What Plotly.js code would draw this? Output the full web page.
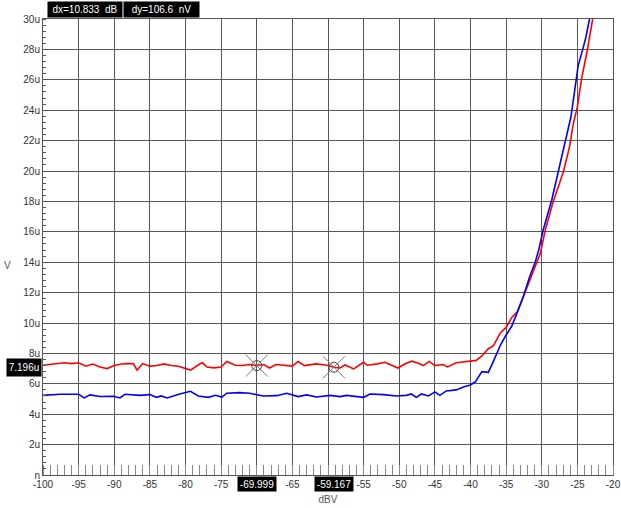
<!DOCTYPE html>
<html>
<head>
<meta charset="utf-8">
<script src="https://cdn.plot.ly/plotly-3.0.1.min.js"></script>
<style>
html,body{margin:0;padding:0;background:#fff;}
#chart{width:621px;height:508px;}
</style>
</head>
<body>
<div id="chart"></div>
<script>
// ---- data (x in dBV, y in microvolts) ----
const redX = [-100,-99,-98,-97,-96,-95,-94,-93,-92,-91,-90,-89,-88,-87.3,-86.8,-86,-85,-84,-83,-82,-81,-80,-79.3,-78,-77.6,-77,-76,-75,-74.2,-73,-72,-71,-70,-69,-68.2,-67.3,-65,-64.2,-63.3,-61.7,-60.3,-59.2,-58.3,-57.6,-56.4,-55,-54.5,-53.1,-52,-51.3,-50.2,-49.1,-48.2,-47.5,-46.6,-45.8,-45,-43.9,-43.2,-42,-40.1,-39.2,-38.4,-37.5,-36.8,-35.8,-35,-34.2,-33.4,-32.6,-31.8,-30.9,-30.2,-29.5,-28.4,-27.5,-26.9,-26.1,-25.6,-25,-24.4,-23.6,-22.85];
const redY = [7.22,7.28,7.36,7.38,7.33,7.38,7.16,7.3,7.1,7.0,7.2,7.3,7.33,7.32,6.9,7.33,7.16,7.2,7.31,7.2,7.15,7.0,6.9,7.3,7.38,7.1,7.05,7.1,7.47,7.22,7.2,7.27,7.2,7.27,7.04,7.27,7.16,7.47,7.2,7.31,7.24,7.09,7.04,7.24,6.98,7.42,7.22,7.31,7.42,7.27,7.04,7.33,7.49,7.38,7.2,7.47,7.2,7.27,7.11,7.38,7.5,7.54,7.83,8.31,8.49,9.36,9.71,10.37,10.75,11.73,12.72,13.82,14.58,16.12,17.98,19.19,20.07,21.6,23.03,24.23,26.1,27.96,30];
const blueX = [-100,-97.6,-95,-94.2,-93.4,-92,-90.1,-89.2,-88.5,-86.4,-85,-84.1,-83.4,-82.6,-80.8,-79.3,-78.2,-76.8,-75.8,-74.9,-74.2,-72.4,-71,-70,-69.1,-67.2,-65.8,-64.2,-63,-61.6,-59.7,-58.3,-57.4,-55,-54.1,-52.2,-50.4,-49,-48.3,-47.6,-46.9,-45.9,-45,-44.3,-43.4,-42,-40.9,-40,-39.3,-38.4,-37.5,-36.8,-35.8,-35,-34.2,-33.4,-32.6,-31.7,-30.9,-30.4,-29.8,-28.6,-27.7,-26.7,-25.9,-25.3,-24.9,-24.25,-23.8,-23.3];
const blueY = [5.24,5.31,5.31,5.07,5.27,5.16,5.18,5.07,5.31,5.24,5.29,5.11,5.2,5.07,5.33,5.51,5.2,5.11,5.24,5.13,5.38,5.42,5.38,5.29,5.2,5.22,5.38,5.16,5.27,5.13,5.24,5.16,5.24,5.11,5.33,5.29,5.2,5.24,5.33,5.11,5.33,5.2,5.47,5.24,5.53,5.6,5.81,5.92,6.14,6.8,6.75,7.46,8.55,9.21,9.8,10.75,11.73,13.05,14.03,14.85,16.12,18.09,19.95,21.93,23.57,25.55,26.9,28,28.8,30];

const cursorX = [-69.999, -59.167];
const cursorY = [7.196, 7.0894];
const cursorLabels = ['-69.999', '-59.167'];
const yCursorLabel = '7.196u';
const deltaLabels = ['dx=10.833&nbsp;&nbsp;dB', 'dy=106.6&nbsp;&nbsp;nV'];

const xTickVals = [-100,-95,-90,-85,-80,-75,-70,-65,-60,-55,-50,-45,-40,-35,-30,-25,-20];
const xTickText = ['-100','-95','-90','-85','-80','-75','','-65','','-55','-50','-45','-40','-35','-30','-25','-20'];
const yTickVals = [0,2,4,6,8,10,12,14,16,18,20,22,24,26,28,30];
const yTickText = ['n','2u','4u','6u','8u','10u','12u','14u','16u','18u','20u','22u','24u','26u','28u','30u'];

const FONT = '"Liberation Sans Narrow", "Arial Narrow", "Liberation Sans", Arial, sans-serif';

const traces = [
  {x: redX, y: redY, type: 'scatter', mode: 'lines', line: {color: '#ff0000', width: 1.6}, hoverinfo: 'skip'},
  {x: blueX, y: blueY, type: 'scatter', mode: 'lines', line: {color: '#0000ff', width: 1.6}, hoverinfo: 'skip'},
  {x: cursorX, y: cursorY, type: 'scatter', mode: 'markers', cliponaxis: false,
   marker: {symbol: 'x-thin-open', size: 22, color: '#777', line: {color: '#777', width: 1}}, hoverinfo: 'skip'},
  {x: cursorX, y: cursorY, type: 'scatter', mode: 'markers', cliponaxis: false,
   marker: {symbol: 'circle-open', size: 10, color: '#444', line: {color: '#444', width: 1}}, hoverinfo: 'skip'}
];

const annotations = [];
// delta boxes on top
annotations.push({xref: 'paper', yref: 'paper', x: 0.007, y: 1, xanchor: 'left', yanchor: 'bottom', yshift: 1,
  text: deltaLabels[0], showarrow: false, bgcolor: '#000', font: {family: FONT, size: 10, color: '#fff'},
  width: 70, height: 11, align: 'center', borderpad: 2});
annotations.push({xref: 'paper', yref: 'paper', x: 0.141, y: 1, xanchor: 'left', yanchor: 'bottom', yshift: 1,
  text: deltaLabels[1], showarrow: false, bgcolor: '#000', font: {family: FONT, size: 10, color: '#fff'},
  width: 71, height: 11, align: 'center', borderpad: 2});
// cursor x labels
cursorX.forEach((cx, i) => {
  annotations.push({xref: 'x', yref: 'paper', x: cx, y: 0, xanchor: 'center', yanchor: 'top', yshift: -1,
    text: cursorLabels[i], showarrow: false, bgcolor: '#000', font: {family: FONT, size: 10, color: '#fff'},
    width: 34, height: 10, borderpad: 2});
});
// cursor y label
annotations.push({xref: 'paper', yref: 'y', x: 0, y: cursorY[0], xanchor: 'right', yanchor: 'middle', xshift: -1, yshift: -2,
  text: yCursorLabel, showarrow: false, bgcolor: '#000', font: {family: FONT, size: 10, color: '#fff'},
  width: 30, height: 13, borderpad: 2});
// y-axis label (upright)
annotations.push({xref: 'paper', yref: 'paper', x: -0.062, y: 0.46, xanchor: 'center', yanchor: 'middle',
  text: 'V', showarrow: false, font: {family: FONT, size: 10, color: '#555'}});

const layout = {
  width: 621, height: 508,
  margin: {l: 43, r: 8, t: 19, b: 33},
  paper_bgcolor: '#fff', plot_bgcolor: '#fff',
  showlegend: false,
  font: {family: FONT, size: 10, color: '#333'},
  xaxis: {
    range: [-100, -20], tickvals: xTickVals, ticktext: xTickText,
    showgrid: true, gridcolor: '#555', gridwidth: 1,
    showline: true, linecolor: '#555', linewidth: 1, mirror: true,
    ticks: '', zeroline: false,
    minor: {dtick: 1, ticks: 'inside', ticklen: 10, tickcolor: '#888', tickwidth: 1, showgrid: false},
    tickfont: {family: FONT, size: 10, color: '#333'},
    title: {text: 'dBV', font: {family: FONT, size: 10, color: '#555'}, standoff: 6}
  },
  yaxis: {
    range: [0, 30], tickvals: yTickVals, ticktext: yTickText,
    showgrid: true, gridcolor: '#555', gridwidth: 1,
    showline: true, linecolor: '#555', linewidth: 1, mirror: true,
    ticks: '', zeroline: false,
    minor: {dtick: 0.4, ticks: 'inside', ticklen: 3, tickcolor: '#555', tickwidth: 1, showgrid: false},
    tickfont: {family: FONT, size: 10, color: '#333'}
  },
  annotations: annotations
};

Plotly.newPlot('chart', traces, layout, {displayModeBar: false, staticPlot: true});
</script>
</body>
</html>
